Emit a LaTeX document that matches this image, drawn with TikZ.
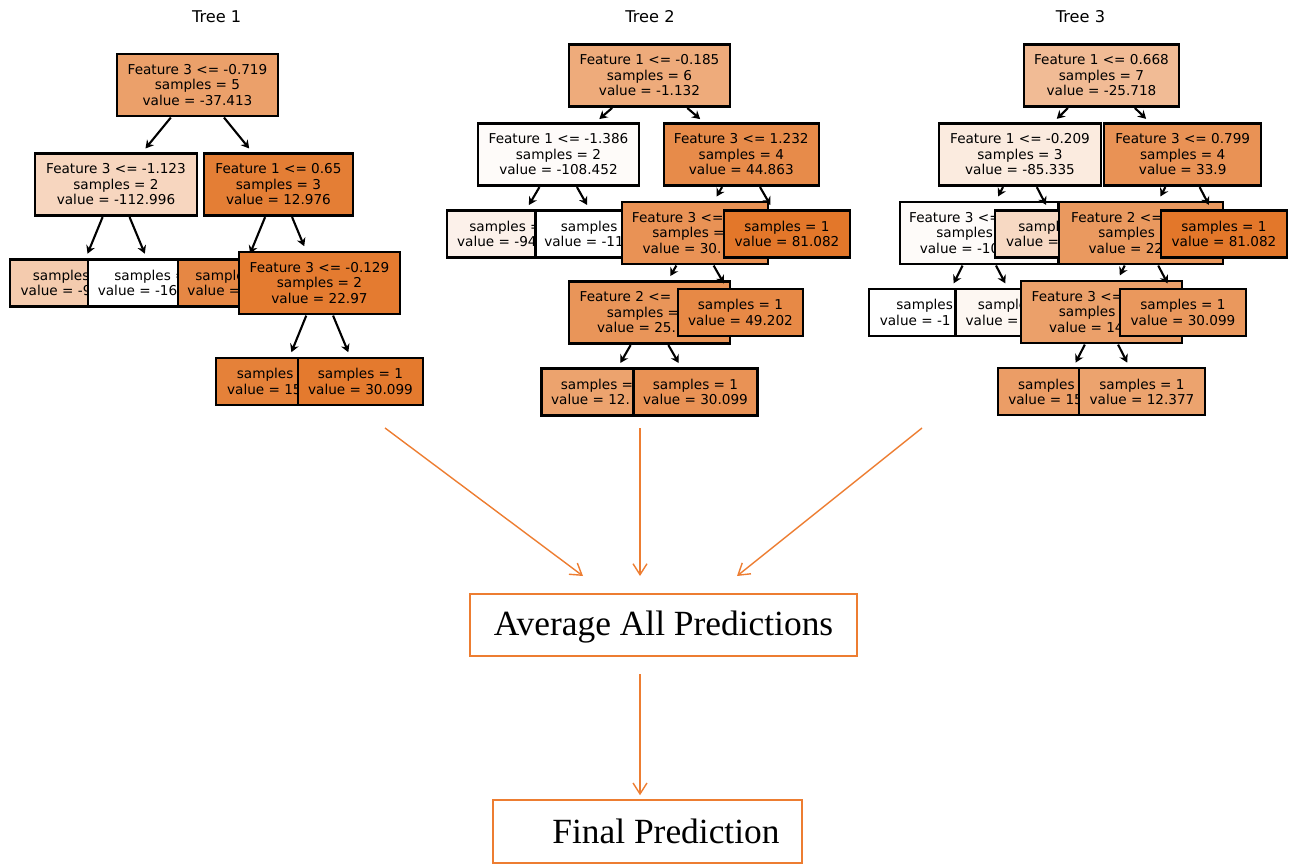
\documentclass[tikz,border=0pt]{standalone}
\usepackage{fontspec}
\setmainfont{Liberation Serif}
\newfontfamily\dv{DejaVu Sans}
\usetikzlibrary{arrows.meta}
\definecolor{dt}{RGB}{227,119,42}
\definecolor{po}{RGB}{237,125,49}
\begin{document}
\begin{tikzpicture}[x=1pt,y=-1pt,
 tn/.style={draw=black, line width=2.3pt, font=\dv\fontsize{13.6}{15.5}\selectfont, align=center, inner sep=0pt, minimum height=47pt},
 tnt/.style={tn, minimum height=62pt},
 tarr/.style={-{Stealth[length=8pt,width=9pt]}, line width=2.1pt, shorten >=5pt, shorten <=0.5pt},
 oarr/.style={-{Straight Barb[length=11pt,width=14pt]}, draw=po, line width=1.4pt},
 obox/.style={draw=po, line width=1.5pt, fill=white, inner sep=0pt, font=\fontsize{35.4}{42}\selectfont},
 ttl/.style={font=\dv\fontsize{16.2}{18}\selectfont}]
\useasboundingbox (0,0) rectangle (1295,864);

% ---------------- Tree 1 ----------------
\node[ttl] (title1) at (216.7,16.5) {Tree 1};
\node[tnt, minimum width=161pt, fill=dt!70!white] (t1r) at (197.5,85) {Feature 3 <= -0.719\\samples = 5\\value = -37.413};
\node[tnt, minimum width=162pt, fill=dt!30!white] (t1L) at (116,184.5) {Feature 3 <= -1.123\\samples = 2\\value = -112.996};
\draw[tarr] (t1r) -- (t1L);
\node[tn, minimum width=131pt, fill=dt!38!white] (t1LL) at (75.5,283) {samples = 1\\value = -9\phantom{0.000}};
\draw[tarr] (t1L) -- (t1LL);
\node[tn, minimum width=138pt, fill=white] (t1LR) at (157,283) {samples = 1\\value = -16\phantom{0.000}};
\draw[tarr] (t1L) -- (t1LR);
\node[tnt, minimum width=149pt, fill=dt!95!white] (t1R) at (278.5,184.5) {Feature 1 <= 0.65\\samples = 3\\value = 12.976};
\draw[tarr] (t1r) -- (t1R);
\node[tn, minimum width=120pt, fill=dt!88!white] (t1RL) at (238,283) {samples = 1\\value = \phantom{-0.000}};
\draw[tarr] (t1R) -- (t1RL);
\node[tnt, minimum width=161pt, fill=dt!97!white] (t1RR) at (319.5,283) {Feature 3 <= -0.129\\samples = 2\\value = 22.97};
\draw[tarr] (t1R) -- (t1RR);
\node[tn, minimum width=127pt, fill=dt!93!white] (t1RRL) at (279.5,381.5) {samples = 1\\value = 15\phantom{.000}};
\draw[tarr] (t1RR) -- (t1RRL);
\node[tn, minimum width=125pt, fill=dt!98!white] (t1RRR) at (360.5,381.5) {samples = 1\\value = 30.099};
\draw[tarr] (t1RR) -- (t1RRR);

% ---------------- Tree 2 ----------------
\node[ttl] (title2) at (650,16.5) {Tree 2};
\node[tnt, minimum width=161pt, fill=dt!62!white] (t2r) at (649.5,75.5) {Feature 1 <= -0.185\\samples = 6\\value = -1.132};
\node[tnt, minimum width=161pt, fill=dt!3!white] (t2L) at (558.5,154.5) {Feature 1 <= -1.386\\samples = 2\\value = -108.452};
\draw[tarr] (t2r) -- (t2L);
\node[tn, minimum width=130pt, fill=dt!10!white] (t2LL) at (512,234) {samples = 1\\value = -94\phantom{.000}};
\draw[tarr] (t2L) -- (t2LL);
\node[tn, minimum width=136pt, fill=white] (t2LR) at (603.5,234) {samples = 1\\value = -11\phantom{0.000}};
\draw[tarr] (t2L) -- (t2LR);
\node[tnt, minimum width=155pt, fill=dt!85!white] (t2R) at (741.3,154.5) {Feature 3 <= 1.232\\samples = 4\\value = 44.863};
\draw[tarr] (t2r) -- (t2R);
\node[tnt, minimum width=146pt, fill=dt!80!white] (t2RL) at (695,233) {Feature 3 <= \phantom{0.00}\\samples = 3\\value = 30.\phantom{000}};
\draw[tarr] (t2R) -- (t2RL);
\node[tnt, minimum width=161pt, fill=dt!78!white] (t2RLL) at (649.5,312.5) {Feature 2 <= \phantom{-0.000}\\samples = 2\\value = 25.\phantom{000}};
\draw[tarr] (t2RL) -- (t2RLL);
\node[tn, minimum width=124pt, fill=dt!68!white] (t2RLLL) at (603.5,392) {samples = 1\\value = 12.\phantom{000}};
\draw[tarr] (t2RLL) -- (t2RLLL);
\node[tn, minimum width=124pt, fill=dt!80!white] (t2RLLR) at (695.5,392) {samples = 1\\value = 30.099};
\draw[tarr] (t2RLL) -- (t2RLLR);
\node[tn, minimum width=125pt, fill=dt!87!white] (t2RLR) at (740.5,312.5) {samples = 1\\value = 49.202};
\draw[tarr] (t2RL) -- (t2RLR);
\node[tn, minimum width=126pt, fill=dt] (t2RR) at (787,234) {samples = 1\\value = 81.082};
\draw[tarr] (t2R) -- (t2RR);

% ---------------- Tree 3 ----------------
\node[ttl] (title3) at (1080.5,16.5) {Tree 3};
\node[tnt, minimum width=155pt, fill=dt!50!white] (t3r) at (1101.5,75.5) {Feature 1 <= 0.668\\samples = 7\\value = -25.718};
\node[tnt, minimum width=162pt, fill=dt!15!white] (t3L) at (1020,154.5) {Feature 1 <= -0.209\\samples = 3\\value = -85.335};
\draw[tarr] (t3r) -- (t3L);
\node[tnt, minimum width=158pt, fill=dt!3!white] (t3LL) at (979,233) {Feature 3 <= \phantom{-0.000}\\samples = 2\\value = -10\phantom{0.000}};
\draw[tarr] (t3L) -- (t3LL);
\node[tn, minimum width=140pt, fill=white] (t3LLL) at (939,312.5) {samples = 1\\value = -1\phantom{00.000}};
\draw[tarr] (t3LL) -- (t3LLL);
\node[tn, minimum width=130pt, fill=dt!6!white] (t3LLR) at (1020.5,312.5) {samples = 1\\value = \phantom{-00.000}};
\draw[tarr] (t3LL) -- (t3LLR);
\node[tn, minimum width=132pt, fill=dt!28!white] (t3LR) at (1061,234) {samples = 1\\value = \phantom{-00.000}};
\draw[tarr] (t3L) -- (t3LR);
\node[tnt, minimum width=157pt, fill=dt!80!white] (t3R) at (1182.7,154.5) {Feature 3 <= 0.799\\samples = 4\\value = 33.9};
\draw[tarr] (t3r) -- (t3R);
\node[tnt, minimum width=164pt, fill=dt!75!white] (t3RL) at (1141,233) {Feature 2 <= \phantom{-0.000}\\samples = 3\\value = 22\phantom{.000}};
\draw[tarr] (t3R) -- (t3RL);
\node[tnt, minimum width=161pt, fill=dt!70!white] (t3RLL) at (1101.5,312) {Feature 3 <= \phantom{-0.000}\\samples = 2\\value = 14\phantom{.000}};
\draw[tarr] (t3RL) -- (t3RLL);
\node[tn, minimum width=125pt, fill=dt!72!white] (t3RLLL) at (1060.7,391.7) {samples = 1\\value = 15\phantom{.000}};
\draw[tarr] (t3RLL) -- (t3RLLL);
\node[tn, minimum width=126pt, fill=dt!68!white] (t3RLLR) at (1142,391.7) {samples = 1\\value = 12.377};
\draw[tarr] (t3RLL) -- (t3RLLR);
\node[tn, minimum width=126pt, fill=dt!76!white] (t3RLR) at (1183,312.5) {samples = 1\\value = 30.099};
\draw[tarr] (t3RL) -- (t3RLR);
\node[tn, minimum width=126pt, fill=dt] (t3RR) at (1224,234) {samples = 1\\value = 81.082};
\draw[tarr] (t3R) -- (t3RR);

% ---------------- Aggregation ----------------
\node[obox, minimum width=387pt, minimum height=62pt, text height=25pt, text depth=5pt] (avg) at (663.5,625) {Average All Predictions};
\node[obox, minimum width=309pt, minimum height=63pt, text height=26pt, text depth=3pt] (final) at (647.5,831.5) {\hspace*{37pt}Final Prediction};

\coordinate (s1) at (385,428);
\coordinate (e1) at (583,576);
\coordinate (s2) at (640,428);
\coordinate (e2) at (640,576);
\coordinate (s3) at (922,428);
\coordinate (e3) at (737,576);
\coordinate (s4) at (640,674);
\draw[oarr] (s1) -- (e1);
\draw[oarr] (s2) -- (e2);
\draw[oarr] (s3) -- (e3);
\draw[oarr, shorten >=4pt] (s4) -- (s4 |- final.north);
\end{tikzpicture}
\end{document}
